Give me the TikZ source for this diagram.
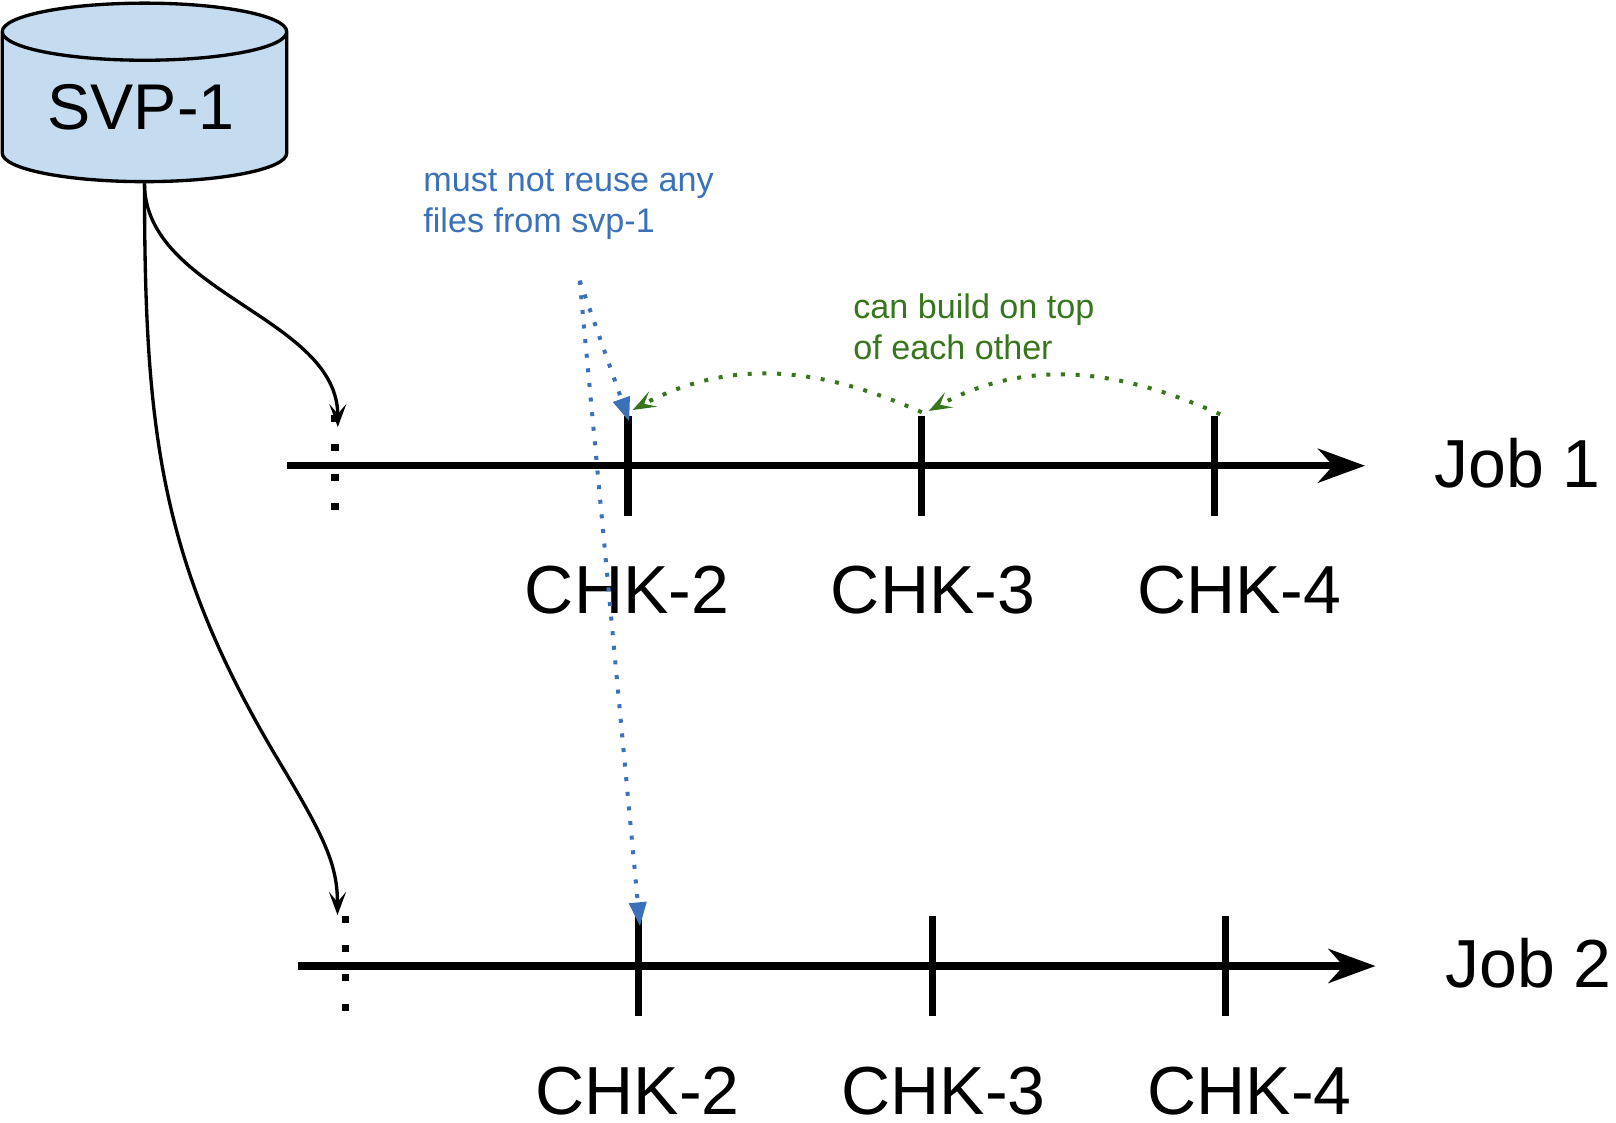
\documentclass[tikz,border=0pt]{standalone}
\usepackage{fontspec}
\setmainfont{Liberation Sans}
\usepackage{xcolor}
\usetikzlibrary{positioning}
\usetikzlibrary{arrows.meta}
\usetikzlibrary{shapes.geometric}
\definecolor{diskblue}{HTML}{C5DBF0}
\definecolor{noteblue}{HTML}{3A71B9}
\definecolor{notegreen}{HTML}{38761D}

\begin{document}
\begin{tikzpicture}[
            x = .75pt, y = -.75pt, % one unit is one pixel of the drawing
            semithick,
            disk/.style = {shape = cylinder, shape border rotate = 90, aspect = .295, draw = black,
                fill = diskblue, line width = 2.5pt, minimum width = 284.5*.75pt, minimum height = 178.5*.75pt,
                inner sep = 0pt, font = \fontsize{48.5}{50}\selectfont},
            tick/.style = {fill = black, inner sep = 0pt, minimum width = 5.3pt, minimum height = 75pt},
            chk/.style = {inner sep = 0pt, text height = 36pt, text depth = 0pt, font = \fontsize{51}{50}\selectfont},
            job/.style = {inner sep = 0pt, anchor = base west, font = \fontsize{51}{50}\selectfont},
            note/.style = {inner sep = 0pt, anchor = north west, align = left, font = \fontsize{25.6}{30.75}\selectfont},
            axis/.style = {line width = 5.4pt, -{Stealth[length = 35.25pt, width = 25.5pt, inset = 11.25pt]}},
            start/.style = {line width = 5.4pt, dash pattern = on 5.25pt off 16.8pt},
            feed/.style = {line width = 2.5pt, -{Stealth[length = 17.25pt, width = 12.75pt, inset = 7.5pt]}},
            reuse/.style = {noteblue, line width = 3pt, dash pattern = on 3pt off 8pt, -{Triangle[length = 18pt, width = 12.75pt]}},
            build/.style = {notegreen, line width = 3pt, dash pattern = on 3pt off 8pt, -{Stealth[length = 17.25pt, width = 12.75pt, inset = 7.5pt]}}
        ]

        \useasboundingbox (0,0) rectangle (1616,1122);

        % source disk
        \node[disk] (SVP) at (144.5,107.5) {SVP-1\kern5pt};

        % job 1
        \coordinate (A1s) at (287,465.7);
        \coordinate (A1e) at (1365,465.7);
        \draw[axis] (A1s) -- (A1e);
        \coordinate (D1s) at (335,415);
        \coordinate (D1e) at (335,510);
        \draw[start] (D1s) -- (D1e);

        \node[tick] (T12) at (628,465.7) {};
        \node[tick] (T13) [right of = T12, node distance = 220pt] {};
        \node[tick] (T14) [right of = T13, node distance = 220pt] {};

        \node[chk] (C12) at (627,589.5) {CHK-2};
        \node[chk] (C13) [right of = C12, node distance = 229.5pt] {CHK-3};
        \node[chk] (C14) [right of = C13, node distance = 229.5pt] {CHK-4};
        \node[job] (J1) at (1434,487) {Job 1};

        % job 2
        \coordinate (A2s) at (297.7,966);
        \coordinate (A2e) at (1375.5,966);
        \draw[axis] (A2s) -- (A2e);
        \coordinate (D2s) at (345.7,915.5);
        \coordinate (D2e) at (345.7,1011);
        \draw[start] (D2s) -- (D2e);

        \node[tick] (T22) at (638.7,966) {};
        \node[tick] (T23) [right of = T22, node distance = 220pt] {};
        \node[tick] (T24) [right of = T23, node distance = 220pt] {};

        \node[chk] (C22) at (637.6,1090) {CHK-2};
        \node[chk] (C23) [right of = C22, node distance = 229.5pt] {CHK-3};
        \node[chk] (C24) [right of = C23, node distance = 229.5pt] {CHK-4};
        \node[job] (J2) at (1445,987) {Job 2};

        % disk to the jobs
        \coordinate (K1) at (337.8,427);
        \coordinate (K2) at (337.5,915);
        \coordinate (B2) at (280,763);
        \draw[feed] (SVP.south) .. controls +(0,110) and +(0,-110) .. (K1);
        \draw[line width = 2.5pt] (SVP.south) .. controls +(0,250) and +(-120,-200) .. (B2);
        \draw[feed] (B2) .. controls +(45,75) and +(0,-50) .. (K2);

        % notes
        \node[note, noteblue] (N1) at (423,169) {must not reuse any\\files from svp-1};
        \node[note, notegreen] (N2) at (853,293) {can build on top\\of each other};

        \coordinate (R) at (579.7,280.7);
        \draw[reuse] (R) -- ([shift = {(1.3,6.3)}]T12.north);
        \draw[reuse] (R) -- ([shift = {(1.3,10.7)}]T22.north);

        \draw[build] ([shift = {(5.5,-1)}]T14.north) .. controls +(-90,-40) and +(106,-58) .. ([shift = {(7.4,-4.3)}]T13.north);
        \draw[build] ([shift = {(.4,-3)}]T13.north) .. controls +(-90,-40) and +(106,-57) .. ([shift = {(4.7,-5.3)}]T12.north);

\end{tikzpicture}
\end{document}
